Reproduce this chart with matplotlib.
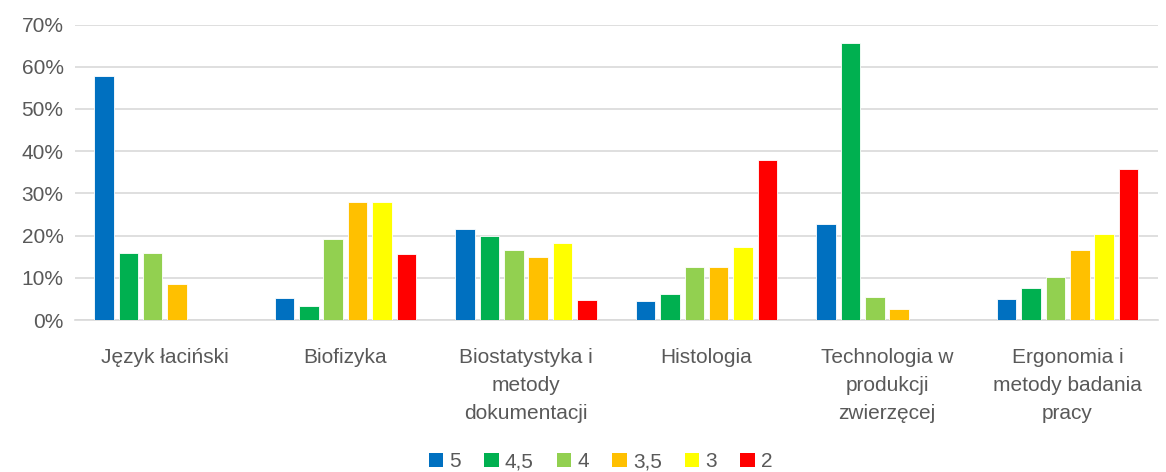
import numpy as np
import matplotlib
matplotlib.use("Agg")
import matplotlib.pyplot as plt
from matplotlib.ticker import PercentFormatter
from matplotlib.patches import Patch

plt.rcParams['font.family'] = ['Liberation Sans', 'DejaVu Sans']

categories = ["Język łaciński", "Biofizyka", "Biostatystyka i\nmetody\ndokumentacji",
              "Histologia", "Technologia w\nprodukcji\nzwierzęcej", "Ergonomia i\nmetody badania\npracy"]
grades = ["5", "4,5", "4", "3,5", "3", "2"]
colors = ["#0070C0", "#00B050", "#92D050", "#FFC000", "#FFFF00", "#FF0000"]

# share of each grade per course, in percent
g5 = [57.8, 5.1, 21.5, 4.6, 22.7, 5.0]
g45 = [15.8, 3.4, 19.8, 6.2, 65.6, 7.6]
g4 = [15.8, 19.2, 16.5, 12.6, 5.5, 10.1]
g35 = [8.5, 28.0, 14.9, 12.6, 2.7, 16.6]
g3 = [0, 28.0, 18.2, 17.2, 0, 20.4]
g2 = [0, 15.6, 4.8, 38.0, 0, 35.8]
series = [g5, g45, g4, g35, g3, g2]

fig = plt.figure(figsize=(11.66, 4.72), dpi=100)
ax = fig.add_axes([0.064, 0.322, 0.929, 0.626])

x = np.arange(len(categories))
pitch = 0.135
width = 0.108
for i, vals in enumerate(series):
    v = np.array(vals) / 100
    ax.bar(x + (i - 2.5) * pitch, v, width, color=colors[i],
           edgecolor="white", linewidth=0.6, zorder=3)

ax.set_xlim(-0.5, len(categories) - 0.5)
ax.set_ylim(0, 0.7)
ax.set_yticks(np.arange(0, 0.71, 0.1))
ax.yaxis.set_major_formatter(PercentFormatter(1.0, decimals=0))
ax.grid(axis='y', color="#D9D9D9", linewidth=1.2, zorder=0)
for s in ["top", "right", "left"]:
    ax.spines[s].set_visible(False)
ax.spines["bottom"].set_color("#D9D9D9")
ax.spines["bottom"].set_linewidth(1.2)
ax.tick_params(axis='y', length=0, labelsize=15, labelcolor="#595959", pad=8)
ax.set_xticks(x)
ax.set_xticklabels(categories, fontsize=15, color="#595959", linespacing=1.6)
ax.tick_params(axis='x', length=0, pad=20)

handles = [Patch(facecolor=c, edgecolor='none') for c in colors]
fig.legend(handles, grades, loc="center", bbox_to_anchor=(0.515, 0.022), ncol=6,
           frameon=False, fontsize=15, labelcolor="#595959",
           handlelength=0.7, handleheight=0.7, handletextpad=0.3, columnspacing=1.1)

fig.savefig("out.png", dpi=100)
